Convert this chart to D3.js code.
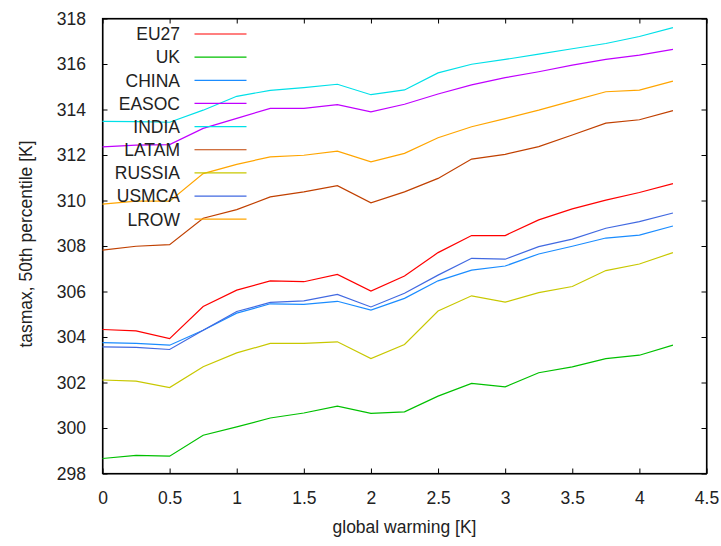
<!DOCTYPE html>
<html>
<head>
<meta charset="utf-8">
<script src="https://cdn.jsdelivr.net/npm/d3@7"></script>
<style>
  body { margin: 0; background: #fff; }
  svg { display: block; font-family: "Liberation Sans", Arial, sans-serif; }
  .axis path, .axis line { stroke: #000; }
  .axis text { font-size: 17.5px; fill: #222; }
  .line { fill: none; stroke-width: 1.2; }
</style>
</head>
<body>
<svg width="721" height="546"></svg>
<script>
// global warming steps (K)
var warming = [0, 0.25, 0.5, 0.75, 1, 1.25, 1.5, 1.75, 2, 2.25, 2.5, 2.75, 3, 3.25, 3.5, 3.75, 4, 4.25];

var regions = ["EU27", "UK", "CHINA", "EASOC", "INDIA", "LATAM", "RUSSIA", "USMCA", "LROW"];
var colors  = ["#ff0000", "#00c000", "#1a8cff", "#c000ff", "#00e0e8", "#c04000", "#c8c800", "#4169e1", "#ffa500"];

var eu27   = [304.33, 304.27, 303.93, 305.34, 306.06, 306.47, 306.43, 306.75, 306.02, 306.68, 307.71, 308.46, 308.46, 309.15, 309.63, 310.02, 310.35, 310.74];
var uk     = [298.66, 298.80, 298.76, 299.68, 300.05, 300.44, 300.66, 300.96, 300.64, 300.71, 301.40, 301.96, 301.81, 302.43, 302.69, 303.05, 303.20, 303.64];
var china  = [303.75, 303.72, 303.64, 304.30, 305.05, 305.46, 305.43, 305.57, 305.18, 305.70, 306.47, 306.94, 307.12, 307.65, 307.99, 308.35, 308.48, 308.88];
var easoc  = [312.36, 312.43, 312.46, 313.17, 313.61, 314.05, 314.05, 314.21, 313.90, 314.23, 314.68, 315.08, 315.40, 315.66, 315.95, 316.20, 316.39, 316.64];
var india  = [313.48, 313.47, 313.44, 313.97, 314.58, 314.84, 314.96, 315.11, 314.65, 314.86, 315.61, 315.99, 316.20, 316.43, 316.67, 316.90, 317.21, 317.60];
var latam  = [307.82, 307.99, 308.06, 309.22, 309.60, 310.16, 310.38, 310.65, 309.90, 310.38, 310.97, 311.82, 312.03, 312.37, 312.88, 313.40, 313.55, 313.95];
var russia = [302.11, 302.06, 301.78, 302.69, 303.30, 303.72, 303.72, 303.79, 303.05, 303.67, 305.14, 305.81, 305.53, 305.95, 306.22, 306.92, 307.21, 307.71];
var usmca  = [303.57, 303.54, 303.45, 304.30, 305.12, 305.52, 305.59, 305.87, 305.32, 305.92, 306.72, 307.46, 307.42, 307.97, 308.30, 308.78, 309.07, 309.45];
var lrow   = [309.84, 309.97, 309.97, 311.18, 311.59, 311.92, 311.99, 312.17, 311.70, 312.07, 312.76, 313.24, 313.60, 313.97, 314.38, 314.78, 314.85, 315.25];

var xTicks = [0, 0.5, 1, 1.5, 2, 2.5, 3, 3.5, 4, 4.5];
var yTicks = [298, 300, 302, 304, 306, 308, 310, 312, 314, 316, 318];

var seriesValues = [eu27, uk, china, easoc, india, latam, russia, usmca, lrow];

var svg = d3.select("svg"),
    margin = {top: 18.5, right: 14.5, bottom: 72.5, left: 102.5},
    width = +svg.attr("width") - margin.left - margin.right,
    height = +svg.attr("height") - margin.top - margin.bottom,
    g = svg.append("g").attr("transform", "translate(" + margin.left + "," + margin.top + ")");

var x = d3.scaleLinear().domain([0, 4.5]).range([0, width]),
    y = d3.scaleLinear().domain([298, 318]).range([height, 0]);

var fmt = d3.format("~g");

// bottom / top
g.append("g")
    .attr("class", "axis")
    .attr("transform", "translate(0," + height + ")")
    .call(d3.axisBottom(x).tickValues(xTicks).tickFormat(fmt).tickSizeInner(-5).tickSizeOuter(0).tickPadding(18.5));
g.append("g")
    .attr("class", "axis")
    .call(d3.axisTop(x).tickValues(xTicks).tickFormat("").tickSizeInner(-5).tickSizeOuter(0));

// left / right
g.append("g")
    .attr("class", "axis")
    .call(d3.axisLeft(y).tickValues(yTicks).tickFormat(fmt).tickSizeInner(-5).tickSizeOuter(0).tickPadding(16.5));
g.append("g")
    .attr("class", "axis")
    .attr("transform", "translate(" + width + ",0)")
    .call(d3.axisRight(y).tickValues(yTicks).tickFormat("").tickSizeInner(-5).tickSizeOuter(0));

g.append("rect")
    .attr("width", width)
    .attr("height", height)
    .attr("fill", "none")
    .attr("stroke", "#000")
    .attr("stroke-width", 1.2);

var line = d3.line()
    .x(function(d, i) { return x(warming[i]); })
    .y(function(d) { return y(d); });

g.selectAll(".line")
    .data(seriesValues)
    .enter().append("path")
      .attr("class", "line")
      .attr("d", line)
      .style("stroke", function(d, i) { return colors[i]; });

// legend
var legend = g.selectAll(".legend")
    .data(regions)
    .enter().append("g")
      .attr("class", "legend")
      .attr("transform", function(d, i) { return "translate(0," + (15.5 + i * 23.15) + ")"; });

legend.append("text")
    .attr("x", 77.5)
    .attr("dy", "0.36em")
    .attr("text-anchor", "end")
    .style("font-size", "17.5px")
    .style("fill", "#222")
    .text(function(d) { return d; });

legend.append("line")
    .attr("x1", 92)
    .attr("x2", 144)
    .style("stroke", function(d, i) { return colors[i]; })
    .style("stroke-width", 1.2);

// axis titles
svg.append("text")
    .attr("x", margin.left + width / 2)
    .attr("y", 533)
    .attr("text-anchor", "middle")
    .style("font-size", "17.5px")
    .style("fill", "#222")
    .text("global warming [K]");

svg.append("text")
    .attr("transform", "rotate(-90)")
    .attr("x", -244)
    .attr("y", 32)
    .attr("text-anchor", "middle")
    .style("font-size", "17.5px")
    .style("fill", "#222")
    .text("tasmax, 50th percentile [K]");
</script>
</body>
</html>
